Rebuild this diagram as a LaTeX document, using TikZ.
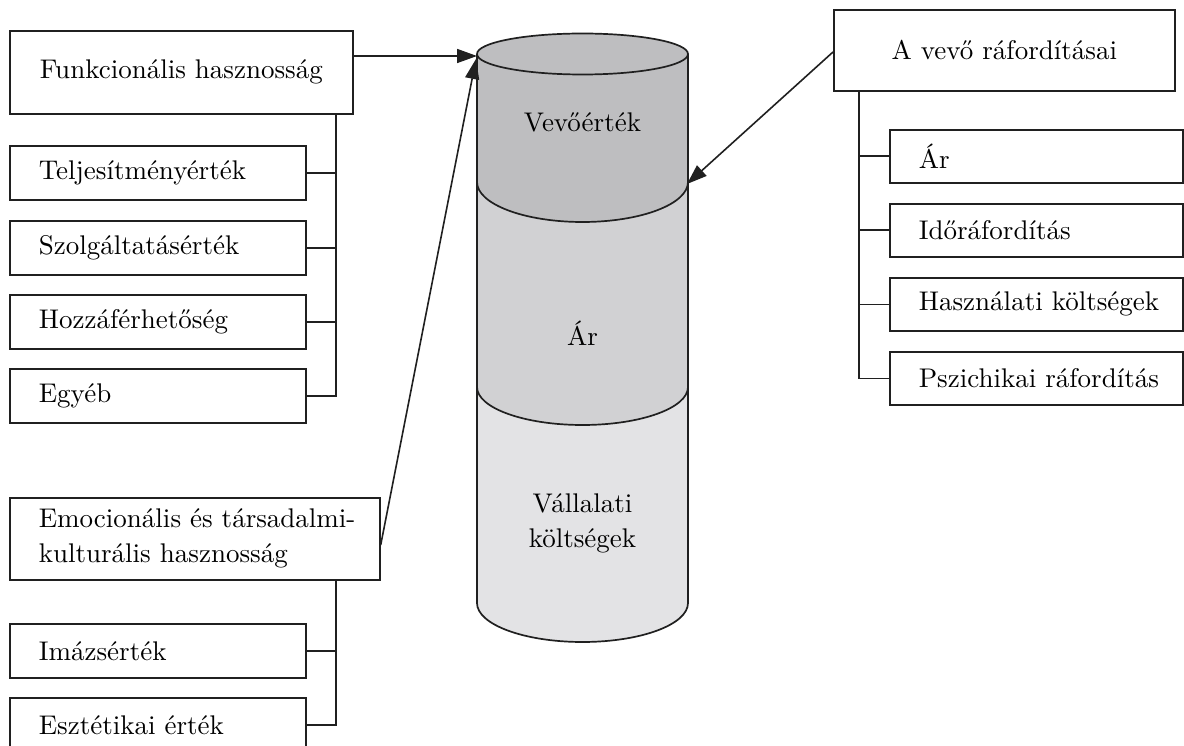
\documentclass[tikz,border=0pt]{standalone}
\usepackage{fontspec}
\setmainfont{lmroman10-regular.otf}
\usetikzlibrary{arrows.meta,calc}
\definecolor{ink}{HTML}{202020}
\definecolor{valueFill}{HTML}{BEBEC0}
\definecolor{priceFill}{HTML}{D1D1D3}
\definecolor{costFill}{HTML}{E3E3E5}
\begin{document}
\begin{tikzpicture}[x=1pt,y=-1pt,
  font=\fontsize{27}{35}\selectfont,
  box/.style={draw=ink, line width=1.7pt, fill=white, anchor=north west,
    inner ysep=0pt, inner xsep=29pt, align=left},
  link/.style={draw=ink, line width=1.7pt},
  pointer/.style={draw=ink, line width=1.6pt, -{Triangle[length=20pt,width=14pt]}},
  rim/.style={draw=ink, line width=1.7pt},
  label/.style={inner sep=0pt, align=center}]
\useasboundingbox (0,0) rectangle (1184,746);
\clip (0,0) rectangle (1184,746);

% --- cylinder: three stacked bands ---
\fill[valueFill] (477,54) -- (477,182)
  arc[start angle=180,end angle=360,x radius=105.5pt,y radius=40pt]
  -- (688,54)
  arc[start angle=0,end angle=180,x radius=105.5pt,y radius=20.5pt] -- cycle;
\fill[priceFill] (477,182)
  arc[start angle=180,end angle=360,x radius=105.5pt,y radius=40pt]
  -- (688,387)
  arc[start angle=0,end angle=-180,x radius=105.5pt,y radius=38pt] -- cycle;
\fill[costFill] (477,387)
  arc[start angle=180,end angle=360,x radius=105.5pt,y radius=38pt]
  -- (688,603)
  arc[start angle=0,end angle=-180,x radius=105.5pt,y radius=39pt] -- cycle;
\draw[rim] (477,54) -- (477,603);
\draw[rim] (688,54) -- (688,603);
\draw[rim] (582.5,54) ellipse[x radius=105.5pt,y radius=20.5pt];
\draw[rim] (477,182) arc[start angle=180,end angle=360,x radius=105.5pt,y radius=40pt];
\draw[rim] (477,387) arc[start angle=180,end angle=360,x radius=105.5pt,y radius=38pt];
\draw[rim] (477,603) arc[start angle=180,end angle=360,x radius=105.5pt,y radius=39pt];

\node[label] (vevoertek) at (582.5,122) {Vevőérték};
\node[label] (ar) at (582.5,333) {Ár};
\node[label] (vallalati) at (582.5,523) {Vállalati\\költségek};

\coordinate (rimtop) at (477,56);
\coordinate (rimtoplow) at (476,59);
\coordinate (rimside) at (687,184);

% --- left: functional benefits ---
\node[box, text width=285pt, align=center, minimum height=83pt] (funk) at (9,30) {\mbox{Funkcionális hasznosság}};
\node[box, text width=238pt, minimum height=54pt] (telj) at (9,145) {Teljesítményérték};
\node[box, text width=238pt, minimum height=54pt] (szolg) at (9,220) {Szolgáltatásérték};
\node[box, text width=238pt, minimum height=54pt] (hozza) at (9,294) {Hozzáférhetőség};
\node[box, text width=238pt, minimum height=54pt] (egyeb) at (9,368) {Egyéb};

\coordinate (ltrunk) at (336,0);
\draw[link] (funk.south -| ltrunk) -- (egyeb.east -| ltrunk) -- (egyeb.east);
\foreach \n in {telj,szolg,hozza}
  \draw[link] (\n.east) -- (\n.east -| ltrunk);

% --- left: emotional and socio-cultural benefits ---
\node[box, text width=312pt, minimum height=82pt] (emoc) at (9,497) {\mbox{Emocionális és társadalmi-}\\\mbox{kulturális hasznosság}};
\node[box, text width=238pt, minimum height=54pt] (imazs) at (9,623) {Imázsérték};
\node[box, text width=238pt, minimum height=54pt] (eszt) at (9,697) {Esztétikai érték};

\draw[link] (emoc.south -| ltrunk) -- (eszt.east -| ltrunk) -- (eszt.east);
\draw[link] (imazs.east) -- (imazs.east -| ltrunk);

% --- right: customer expenditures ---
\node[box, text width=283pt, align=center, minimum height=81pt] (raford) at (833,9) {\mbox{A vevő ráfordításai}};
\node[box, text width=235pt, minimum height=53pt] (rar) at (889,129) {Ár};
\node[box, text width=235pt, minimum height=53pt] (ido) at (889,203) {Időráfordítás};
\node[box, text width=235pt, minimum height=53pt] (haszn) at (889,277) {\mbox{Használati költségek}};
\node[box, text width=235pt, minimum height=53pt] (pszich) at (889,351) {\mbox{Pszichikai ráfordítás}};

\coordinate (rtrunk) at (859,0);
\draw[link] (raford.south -| rtrunk) -- (pszich.west -| rtrunk) -- (pszich.west);
\foreach \n in {rar,ido,haszn}
  \draw[link] (\n.west -| rtrunk) -- (\n.west);

% --- arrows into the cylinder ---
\draw[pointer] ([yshift=-26pt]funk.north east) -- (rimtop);
\draw[pointer] ([yshift=-48pt]emoc.north east) -- (rimtoplow);
\draw[pointer] ([yshift=-43pt]raford.north west) -- (rimside);
\end{tikzpicture}
\end{document}
